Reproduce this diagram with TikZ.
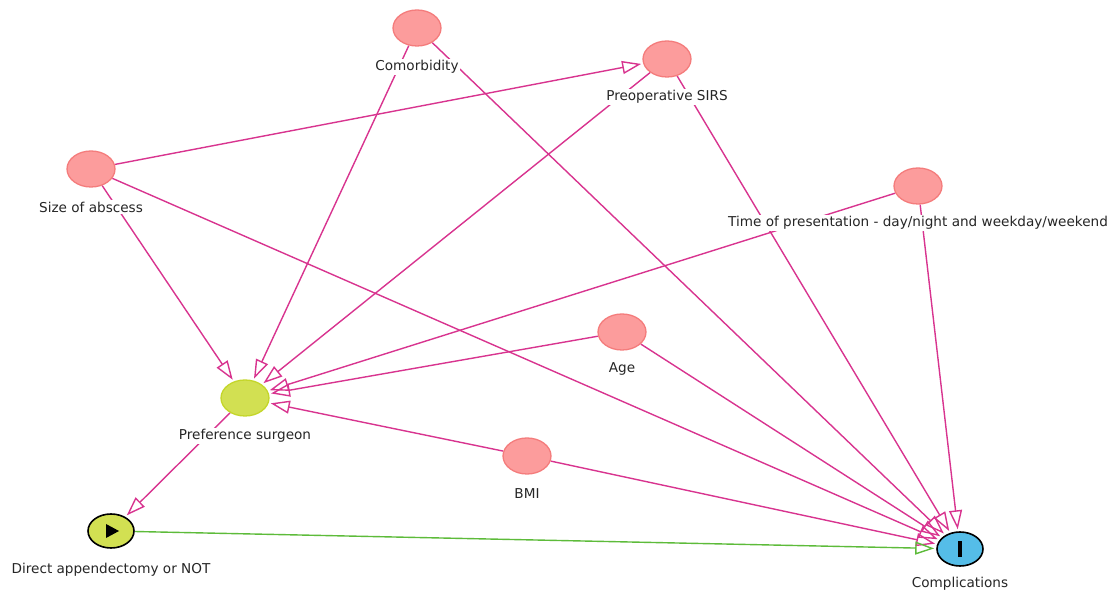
\documentclass[tikz,border=0pt]{standalone}
\usepackage{fontspec}
\setmainfont{DejaVu Sans}
\usetikzlibrary{arrows.meta}
\usetikzlibrary{shapes.geometric}
\usetikzlibrary{backgrounds}
\definecolor{edgepink}{HTML}{D8348F}
\definecolor{varfill}{HTML}{FC9C9C}
\definecolor{varline}{HTML}{F47C7C}
\definecolor{expfill}{HTML}{D2E052}
\definecolor{expline}{HTML}{C4D62A}
\definecolor{outfill}{HTML}{55BDE8}
\definecolor{pathgreen}{HTML}{5DBB3A}

\begin{document}
\begin{tikzpicture}[x=1pt, y=-1pt,
    every node/.style={font=\fontsize{13.6}{15}\selectfont},
    var/.style={ellipse, draw=varline, fill=varfill, line width=1.3pt, minimum width=48pt, minimum height=36pt, inner sep=0pt},
    expo/.style={var, draw=expline, fill=expfill},
    startv/.style={var, draw=black, fill=expfill, line width=1.6pt, minimum width=46pt, minimum height=34pt},
    outc/.style={var, draw=black, fill=outfill, line width=1.6pt, minimum width=46pt, minimum height=34pt},
    lbl/.style={fill=white, inner sep=1.5pt, text=black!85},
    arr/.style={-{Triangle[open, length=19pt, width=13pt]}, draw=edgepink, line width=1.4pt, shorten >=2pt},
    causal/.style={arr, draw=pathgreen},
]
\useasboundingbox (0,0) rectangle (1112,593);
% === Variables ===
\node[var] (cmb) at (417, 28) {};
\node[var] (sirs) at (667, 59) {};
\node[var] (abs) at (91, 169) {};
\node[var] (time) at (918, 186) {};
\node[var] (age) at (622, 332) {};
\node[var] (bmi) at (527, 456) {};
\node[expo] (pref) at (245, 398) {};
% Exposure and outcome
\node[startv] (dir) at (111, 531) {};
\fill (106, 524) -- (119, 531) -- (106, 538) -- cycle;
\node[outc] (cmp) at (960, 549) {};
\fill (958, 541) rectangle (962, 557);
% === Edges (behind the nodes) ===
\begin{scope}[on background layer]
\draw[arr] (abs) -- (sirs);
\draw[arr] (abs) -- (pref);
\draw[arr] (abs) -- (cmp);
\draw[arr] (cmb) -- (pref);
\draw[arr] (cmb) -- (cmp);
\draw[arr] (sirs) -- (pref);
\draw[arr] (sirs) -- (cmp);
\draw[arr] (time) -- (pref);
\draw[arr] (time) -- (cmp);
\draw[arr] (age) -- (pref);
\draw[arr] (age) -- (cmp);
\draw[arr] (bmi) -- (pref);
\draw[arr] (bmi) -- (cmp);
\draw[arr] (pref) -- (dir);
\draw[causal] (dir) -- (cmp);
\end{scope}
% === Labels ===
\node[lbl] (cmbL) at (417, 67) {Comorbidity};
\node[lbl] (sirsL) at (667, 97) {Preoperative SIRS};
\node[lbl] (absL) at (91, 207) {Size of abscess};
\node[lbl] (timeL) at (918, 223) {Time of presentation - day/night and weekday/weekend};
\node[lbl] (ageL) at (622, 369) {Age};
\node[lbl] (bmiL) at (527, 494) {BMI};
\node[lbl] (prefL) at (245, 436) {Preference surgeon};
\node[lbl] (dirL) at (111, 570) {Direct appendectomy or NOT};
\node[lbl] (cmpL) at (960, 584) {Complications};
\end{tikzpicture}
\end{document}
